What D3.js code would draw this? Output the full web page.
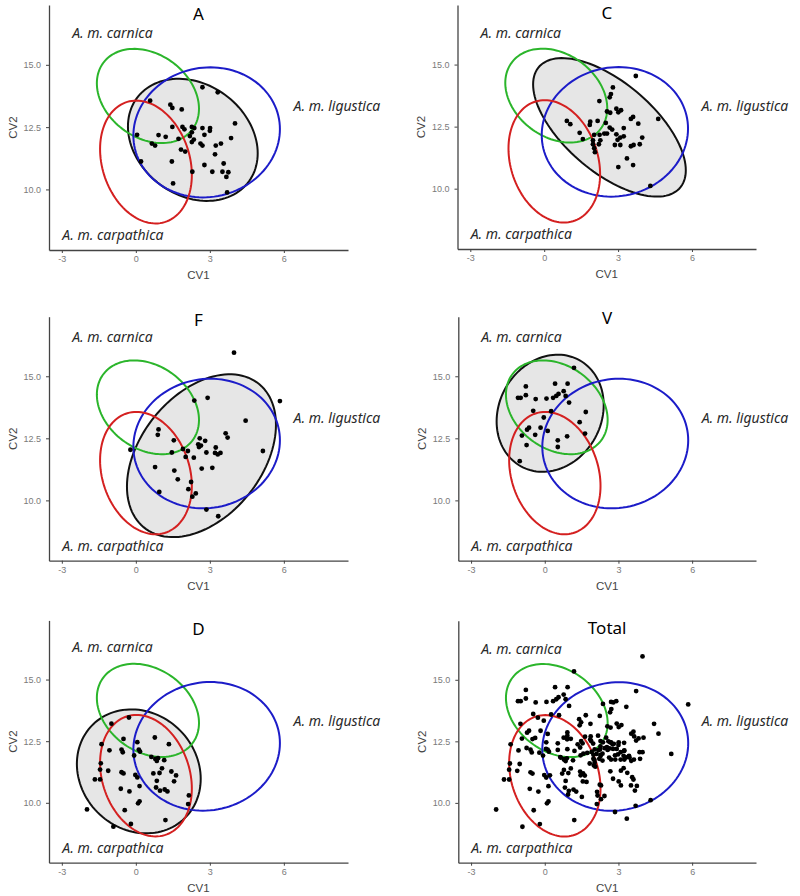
<!DOCTYPE html>
<html lang="en">
<head>
<meta charset="utf-8">
<script src="https://d3js.org/d3.v7.min.js"></script>
<style>
  body { margin: 0; background: #fff; }
  .tick text { font-family: "Liberation Sans", Arial, sans-serif; font-size: 9px; fill: #7a7a7a; }
  .axis path, .axis line { stroke: #444; }
  .atitle { font-family: "Liberation Sans", Arial, sans-serif; font-size: 11.5px; fill: #444; }
  .ptitle { font-family: "Noto Sans", sans-serif; font-size: 17px; fill: #000; }
  .lab { font-family: "Noto Sans", sans-serif; font-style: italic; font-size: 14px; fill: #2a2a2a; }
</style>
</head>
<body>
<div id="chart"></div>
<script>
const panels = ["A", "C", "F", "V", "D", "Total"];
const xTicks = [-3, 0, 3, 6];
const yTicks = [10.0, 12.5, 15.0];
const subspecies = ["A. m. carnica", "A. m. ligustica", "A. m. carpathica"];
const subColours = ["#2bb52b", "#1c1cc8", "#d42020"];

// reference ellipses of the three subspecies: cx, cy, half width, half height, correlation
const refEllipses = [
  [0.49, 13.75, 2.07, 1.89, -0.27],
  [2.87, 12.29, 2.97, 2.61, 0.05],
  [0.41, 11.10, 1.86, 2.465, -0.21]
];
// where the subspecies names sit (data units)
const labelPos = [[-0.95, 16.38], [8.15, 13.33], [-0.93, 8.16]];

// ellipse of each sampled region, same layout as above
const groupEllipses = {
  A: [2.31, 11.99, 2.63, 2.45, -0.22],
  C: [2.65, 12.47, 3.10, 2.79, -0.62],
  F: [2.66, 11.80, 3.02, 3.28, 0.38],
  V: [0.22, 13.51, 2.18, 2.36, 0.14],
  D: [0.12, 11.275, 2.51, 2.515, -0.12]
};

// CV1, CV2 scores per region
const ptsA = [[2.70,14.10],[3.32,13.90],[0.58,13.56],[1.40,13.40],[1.48,13.27],[1.86,13.21],[4.02,12.65],[1.48,12.51],[1.89,12.51],[1.97,12.41],[2.27,12.51],[2.37,12.46],[2.70,12.46],[3.01,12.46],[3.00,12.35],[0.05,12.19],[0.92,12.18],[1.21,12.11],[2.27,12.29],[2.19,12.14],[2.78,12.19],[3.86,12.06],[2.35,12.00],[2.27,11.90],[0.65,11.84],[0.78,11.76],[1.73,12.03],[2.62,11.84],[2.70,11.76],[3.24,11.76],[3.45,11.84],[3.21,11.41],[1.83,11.60],[2.00,11.52],[0.21,11.12],[1.46,11.12],[2.78,10.98],[3.56,11.04],[2.29,10.71],[3.10,10.71],[3.51,10.71],[3.75,10.69],[3.67,10.50],[1.51,10.24],[3.70,9.88]];
const ptsC = [[3.72,14.54],[2.79,14.08],[2.71,13.81],[2.66,13.68],[2.24,13.53],[2.55,13.11],[2.68,13.06],[2.93,13.22],[3.12,13.16],[3.01,13.08],[3.61,12.89],[3.52,12.81],[4.63,12.81],[0.92,12.73],[1.06,12.60],[1.87,12.70],[2.17,12.73],[2.50,12.65],[1.85,12.57],[3.82,12.62],[2.66,12.46],[2.76,12.38],[3.23,12.44],[1.44,12.25],[2.44,12.22],[2.55,12.22],[2.93,12.19],[2.03,12.17],[2.25,12.17],[3.23,12.11],[1.57,12.00],[1.98,11.95],[2.28,11.95],[2.98,11.97],[3.09,12.06],[3.98,12.06],[1.98,11.79],[2.22,11.79],[2.87,11.76],[3.09,11.76],[3.52,11.71],[3.63,11.76],[3.88,11.79],[2.03,11.63],[2.06,11.47],[3.36,11.22],[3.61,10.95],[3.01,10.87],[4.31,10.11]];
const ptsF = [[3.98,15.95],[2.37,14.02],[2.91,14.13],[5.84,14.00],[4.45,13.21],[0.92,12.86],[0.89,12.64],[3.64,12.70],[3.72,12.53],[2.59,12.50],[2.81,12.40],[1.54,12.42],[2.53,12.26],[2.64,12.21],[2.56,12.15],[3.24,12.13],[1.91,12.07],[2.11,11.99],[1.46,11.93],[2.86,11.93],[3.21,11.91],[3.32,11.85],[3.43,11.91],[5.15,11.99],[2.02,11.75],[2.35,11.72],[-0.22,12.04],[0.78,11.34],[1.56,11.20],[2.67,11.28],[3.10,11.31],[1.70,10.85],[2.24,10.74],[2.13,10.45],[2.43,10.28],[2.29,10.15],[0.95,10.34],[2.86,9.63],[3.34,9.36]];
const ptsV = [[1.19,15.34],[-0.77,14.59],[0.42,14.70],[0.93,14.70],[0.77,14.40],[0.85,14.21],[-0.77,14.24],[-1.09,14.13],[-0.98,14.13],[-0.37,14.08],[0.07,14.10],[0.34,14.13],[0.47,14.21],[0.56,14.29],[0.99,13.94],[-0.47,13.61],[0.26,13.59],[1.67,13.56],[-0.04,13.34],[1.42,13.15],[-0.64,12.93],[-0.72,12.85],[-0.17,12.93],[0.12,12.80],[1.64,12.69],[-0.93,12.61],[-0.39,12.64],[0.91,12.58],[0.53,12.42],[-0.74,12.23],[0.53,12.15],[-1.02,11.58]];
const ptsD = [[-0.28,13.46],[-0.99,13.21],[0.77,12.65],[-0.50,12.59],[-1.39,12.38],[0.06,12.46],[1.34,12.38],[-1.07,12.13],[-0.58,12.16],[-0.53,12.05],[0.12,12.16],[0.17,12.08],[0.63,11.86],[-0.07,11.92],[0.79,11.78],[0.90,11.81],[0.85,11.70],[1.15,11.73],[-1.42,11.60],[-1.45,11.35],[-1.12,11.30],[-0.58,11.24],[-0.50,11.19],[-0.02,11.13],[0.06,11.03],[1.06,11.40],[0.71,11.19],[0.96,11.21],[1.44,11.27],[1.63,11.11],[0.85,10.89],[1.55,10.87],[-1.66,10.95],[-1.45,10.95],[-0.61,10.57],[-0.26,10.46],[0.15,10.68],[0.82,10.62],[0.98,10.49],[1.17,10.54],[1.28,10.46],[2.15,10.30],[0.15,10.06],[0.09,9.98],[2.12,9.95],[-1.98,9.73],[-0.45,9.70],[1.20,9.30],[-0.20,9.14],[-0.91,9.03]];

const groupPts = { A: ptsA, C: ptsC, F: ptsF, V: ptsV, D: ptsD };
groupPts.Total = ptsA.concat(ptsC, ptsF, ptsV, ptsD);

// pixel boxes of the six plots (labDy nudges the top label)
const layout = {
  A:     { left: 49,    right: 348, top: 5,     bottom: 250,   titleY: 14,  labDy: 3 },
  C:     { left: 457.5, right: 756, top: 5,     bottom: 249,   titleY: 13,  labDy: 3 },
  F:     { left: 49,    right: 348, top: 316.7, bottom: 560.7, titleY: 320, labDy: -5 },
  V:     { left: 458.3, right: 756, top: 316.7, bottom: 560.7, titleY: 318, labDy: -5 },
  D:     { left: 49,    right: 348, top: 620.4, bottom: 862.7, titleY: 629, labDy: 1 },
  Total: { left: 458.3, right: 756, top: 620.7, bottom: 862.7, titleY: 628, labDy: 3 }
};

const svg = d3.select("#chart").append("svg")
  .attr("width", 800)
  .attr("height", 896);

function ellipsePts(e) {
  const [cx, cy, hx, hy, r] = e;
  return d3.range(0, 120).map(i => {
    const t = i / 120 * 2 * Math.PI;
    return [cx + hx * Math.cos(t), cy + hy * (r * Math.cos(t) + Math.sqrt(1 - r * r) * Math.sin(t))];
  });
}

panels.forEach(name => {
  const L = layout[name];
  const x = d3.scaleLinear().domain([-3.52, 8.6]).range([L.left, L.right]);
  const y = d3.scaleLinear().domain([7.57, 17.4]).range([L.bottom, L.top]);
  const line = d3.line().x(d => x(d[0])).y(d => y(d[1])).curve(d3.curveLinearClosed);
  const g = svg.append("g");

  // region ellipse
  if (groupEllipses[name]) {
    g.append("path")
      .attr("d", line(ellipsePts(groupEllipses[name])))
      .attr("fill", "#e6e6e6")
      .attr("stroke", "#111")
      .attr("stroke-width", 2);
  }

  refEllipses.forEach((e, i) => {
    g.append("path")
      .attr("d", line(ellipsePts(e)))
      .attr("fill", "none")
      .attr("stroke", subColours[i])
      .attr("stroke-width", 2);
  });

  g.selectAll("circle")
    .data(groupPts[name])
    .enter()
    .append("circle")
    .attr("cx", d => x(d[0]))
    .attr("cy", d => y(d[1]))
    .attr("r", 2.4)
    .attr("fill", "#000");

  g.selectAll(".lab")
    .data(subspecies)
    .enter()
    .append("text")
    .attr("class", "lab")
    .attr("x", (d, i) => x(labelPos[i][0]))
    .attr("y", (d, i) => y(labelPos[i][1]) + 5 + (i === 0 ? L.labDy : 0))
    .attr("text-anchor", "middle")
    .text(d => d);

  // axes
  g.append("g")
    .attr("class", "axis")
    .attr("transform", "translate(0," + L.bottom + ")")
    .call(d3.axisBottom(x).tickValues(xTicks).tickSize(3).tickSizeOuter(0).tickPadding(3).tickFormat(d => String(d)))
    .call(a => a.select(".domain").attr("stroke-width", 1.3));

  g.append("g")
    .attr("class", "axis")
    .attr("transform", "translate(" + L.left + ",0)")
    .call(d3.axisLeft(y).tickValues(yTicks).tickSize(3).tickSizeOuter(0).tickPadding(5).tickFormat(d3.format(".1f")))
    .call(a => a.select(".domain").attr("stroke-width", 1.3));

  g.selectAll(".tick text").attr("fill", "#7a7a7a");

  g.append("text")
    .attr("class", "atitle")
    .attr("x", (L.left + L.right) / 2)
    .attr("y", L.bottom + 29)
    .attr("text-anchor", "middle")
    .text("CV1");

  g.append("text")
    .attr("class", "atitle")
    .attr("transform", "translate(" + (L.left - 32.5) + "," + ((L.top + L.bottom) / 2) + ") rotate(-90)")
    .attr("text-anchor", "middle")
    .text("CV2");

  g.append("text")
    .attr("class", "ptitle")
    .attr("x", (L.left + L.right) / 2)
    .attr("y", L.titleY + 6)
    .attr("text-anchor", "middle")
    .text(name);
});
</script>
</body>
</html>
